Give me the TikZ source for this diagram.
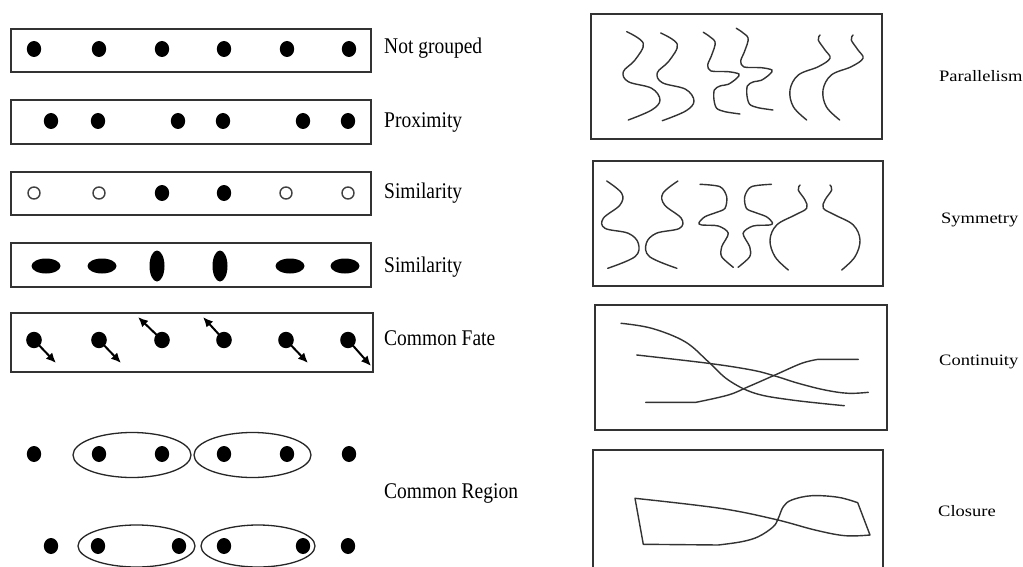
\documentclass[tikz,border=0pt]{standalone}
\usepackage{graphicx}
\usepackage{fontspec}
\setmainfont{Liberation Serif}
\usetikzlibrary{arrows.meta}
\newcommand{\mydot}[2]{\fill[black] (#1,#2) ellipse [x radius=7.2pt, y radius=8pt];}
\newcommand{\opendot}[2]{\draw[black!75,line width=1.4pt] (#1,#2) circle [radius=6pt];}
\newcommand{\hell}[2]{\fill[black] (#1,#2) ellipse [x radius=14.5pt, y radius=7.5pt];}
\newcommand{\vell}[2]{\fill[black] (#1,#2) ellipse [x radius=7.5pt, y radius=15.5pt];}
\newcommand{\lefttext}[1]{\scalebox{1}[1.15]{#1}}
\newcommand{\righttext}[1]{\scalebox{1}[0.86]{#1}}
\begin{document}
\begin{tikzpicture}[x=1pt,y=-1pt,
  box/.style={draw=black!80,line width=1.4pt},
  curve/.style={draw=black!80,line width=1.4pt,line cap=round,line join=round},
  region/.style={draw=black!85,line width=1.3pt},
  fate/.style={black,line width=2pt,-{Latex[length=10pt,width=9pt]}},
  labl/.style={anchor=base west,inner sep=0pt,font=\fontsize{19.5}{20}\selectfont},
  labr/.style={anchor=base west,inner sep=0pt,font=\fontsize{18.5}{20}\selectfont}]
\useasboundingbox (0,0) rectangle (1023,567);
\clip (0,0) rectangle (1023,567);
\fill[white] (0,0) rectangle (1023,567);

% ---------- left column ----------
% Not grouped
\draw[box] (11,29) rectangle (371,72);
\foreach \x in {34,99,162,224,287,349} {\mydot{\x}{49}}
\node[labl] (l1) at (384,54) {\lefttext{Not grouped}};

% Proximity
\draw[box] (11,100) rectangle (371,144);
\foreach \x in {51,98,178,223,303,348} {\mydot{\x}{121}}
\node[labl] (l2) at (384,128) {\lefttext{Proximity}};

% Similarity (filled/open)
\draw[box] (11,172) rectangle (371,215);
\opendot{34}{193}\opendot{99}{193}
\mydot{162}{193}\mydot{224}{193}
\opendot{286}{193}\opendot{348}{193}
\node[labl] (l3) at (384,198) {\lefttext{Similarity}};

% Similarity (orientation)
\draw[box] (11,243) rectangle (371,287);
\hell{46}{266}\hell{102}{266}
\vell{157}{266}\vell{220}{266}
\hell{290}{266}\hell{345}{266}
\node[labl] (l4) at (384,272) {\lefttext{Similarity}};

% Common Fate
\draw[box] (11,313) rectangle (373,372);
\foreach \x/\y/\tx/\ty in {34/340/56/363, 99/340/121/363, 162/340/138/317, 224/340/203/317, 286/340/308/363, 348/340/371/366}
{
  \fill[black] (\x,\y) ellipse [x radius=7.8pt, y radius=8.2pt];
  \coordinate (t) at (\tx,\ty);
  \draw[fate] (\x,\y) -- (t);
}
\node[labl] (l5) at (384,345) {\lefttext{Common Fate}};

% Common Region
\draw[region] (132,455) ellipse [x radius=59pt, y radius=22.5pt];
\draw[region] (252.5,455) ellipse [x radius=58.5pt, y radius=22.5pt];
\foreach \x in {34,99,162,224,287,349} {\mydot{\x}{454}}
\draw[region] (136.5,546) ellipse [x radius=58.5pt, y radius=21pt];
\draw[region] (258,546) ellipse [x radius=57pt, y radius=21pt];
\foreach \x in {51,98,179,224,303,348} {\mydot{\x}{546}}
\node[labl] (l6) at (384,498) {\lefttext{Common Region}};

% ---------- right column ----------
% Parallelism
\draw[box] (591,14) rectangle (882,139);
\draw[curve] plot[smooth,tension=0.6] coordinates {(626.7,31.7) (643.3,43.3) (635,60) (623.3,71.7) (628.3,81.7) (651.7,88.3) (660,100) (651.7,110) (628.3,120)};
\draw[curve] plot[smooth,tension=0.6] coordinates {(660.7,33) (677.3,44.3) (669,61) (657.3,72.7) (662.3,82.7) (685.7,89.3) (694,101) (685.7,111) (662.3,120.7)};
\draw[curve] plot[smooth,tension=0.5] coordinates {(703.3,32.3) (715,41.7) (711.7,55) (707.7,65) (711,71) (728.3,71.7) (739,74) (736.7,78.3) (728.3,84.3) (720,86) (714.3,90) (714,100) (716.7,108.3) (725,111.7) (740,114)};
\draw[curve] plot[smooth,tension=0.5] coordinates {(736.3,28.3) (748,37.7) (744.7,51) (740.7,61) (744,67) (761.3,67.7) (772,70) (769.7,74.3) (761.3,80.3) (753,82) (747.3,86) (747,96) (749.7,104.3) (758,107.7) (773,110)};
\draw[curve] plot[smooth,tension=0.6] coordinates {(820,35) (818.3,40) (825,50) (830,58.3) (818.3,66.7) (798.3,75) (790,90) (793.3,106.7) (806.7,120)};
\draw[curve] plot[smooth,tension=0.6] coordinates {(853,35) (851.3,40) (858,50) (863,58.3) (851.3,66.7) (831.3,75) (823,90) (826.3,106.7) (839.7,120)};
\node[labr] (r1) at (939,81.5) {\righttext{Parallelism}};

% Symmetry
\draw[box] (593,161) rectangle (883,286);
\draw[curve] plot[smooth,tension=0.6] coordinates {(606.7,181) (621.7,193.3) (620,205) (603.3,218.3) (605,228.3) (628.3,233.3) (638.3,243.3) (635,256.7) (607.7,268.3)};
\draw[curve] plot[smooth,tension=0.6] coordinates {(677.9,181) (662.9,193.3) (664.6,205) (681.3,218.3) (679.6,228.3) (656.3,233.3) (646.3,243.3) (649.6,256.7) (676.9,268.3)};
\draw[curve] plot[smooth,tension=0.5] coordinates {(700,184.3) (720,186.7) (726.7,196.7) (725,208.3) (716.7,212.3) (705,216.7) (699,222.7) (701.7,225) (718.3,226) (728.3,233.3) (721.7,246.7) (721.7,256.7) (733.3,267.3)};
\draw[curve] plot[smooth,tension=0.5] coordinates {(771.4,184.3) (751.4,186.7) (744.7,196.7) (746.4,208.3) (754.7,212.3) (766.4,216.7) (772.4,222.7) (769.7,225) (753.1,226) (743.1,233.3) (749.7,246.7) (749.7,256.7) (738.1,267.3)};
\draw[curve] plot[smooth,tension=0.6] coordinates {(800,185) (798.3,190) (805,200) (806.7,208.3) (795,215) (776.7,225) (770,240) (775,256.7) (788.3,270)};
\draw[curve] plot[smooth,tension=0.6] coordinates {(830,185) (831.7,190) (825,200) (823.3,208.3) (835,215) (853.3,225) (860,240) (855,256.7) (841.7,270)};
\node[labr] (r2) at (941,223) {\righttext{Symmetry}};

% Continuity
\draw[box] (595,305) rectangle (887,430);
\draw[curve] plot[smooth,tension=0.6] coordinates {(621,323.3) (651.7,328.3) (685,341.7) (708.3,361.7) (728.3,380) (755,393.3) (791.7,400) (844.3,405.7)};
\draw[curve] plot[smooth,tension=0.6] coordinates {(636.7,355) (708.3,363.3) (751.7,370) (775,376) (798.3,383.3) (825,390) (848.3,393.3) (868.3,392.3)};
\draw[curve] (645.7,402.3) -- (696,402.3) -- plot[smooth,tension=0.6] coordinates {(696,402.3) (728.3,395) (748.3,386.7) (775,375) (801.7,363.3) (818.3,359.3)} -- (858.3,359.3);
\node[labr] (r3) at (939,365) {\righttext{Continuity}};

% Closure
\draw[box] (593,450) rectangle (883,590);
\draw[curve] plot[smooth,tension=0.6] coordinates {(635,498.3) (720,508.3) (775,519.3) (815,530) (845,535.7) (870,535)}
  -- plot[smooth,tension=0.6] coordinates {(857.7,502.7) (838.3,497.3) (811.7,495.7) (791.7,500) (783.3,506.7) (778.3,518.3) (773.3,526.7) (758.3,536.7) (741.7,541.7) (718.3,545)}
  -- (643.3,544.3) -- cycle;
\node[labr] (r4) at (938,516) {\righttext{Closure}};
\end{tikzpicture}
\end{document}
